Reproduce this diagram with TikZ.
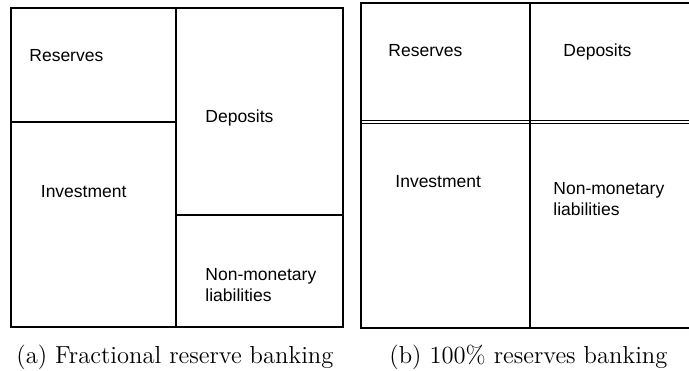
\documentclass[tikz,border=0pt]{standalone}
\usepackage{fontspec}
\newfontfamily\boxfont{Liberation Sans}
\tikzset{
  sheet/.style={line width=1pt},
  item/.style={font=\boxfont\fontsize{8.75}{10.5}\selectfont, anchor=base west, inner sep=0pt, align=left},
  caption/.style={font=\fontsize{12.3}{15}\selectfont, anchor=base west, inner sep=0pt}
}
\begin{document}
\begin{tikzpicture}[x=0.5pt, y=-0.5pt]
  \useasboundingbox (0,0) rectangle (689,370);
  % (a) fractional reserve banking
  \draw[sheet] (11,7.5) rectangle (343,327);
  \draw[sheet] (176,7.5) -- (176,327);
  \draw[sheet] (11,122) -- (176,122);
  \draw[sheet] (176,215) -- (343,215);
  \node[item] (resA) at (29,61.5) {Reserves};
  \node[item] (depA) at (205,122) {Deposits};
  \node[item] (invA) at (40.5,197) {Investment};
  \node[item] (nonA) at (205,301.7) {Non-monetary\\liabilities};
  % (b) 100% reserves banking
  \draw[sheet] (361,2.5) rectangle (720,327.5);
  \draw[sheet] (530,2.5) -- (530,327.5);
  \draw[line width=0.8pt] (361,120.5) -- (720,120.5);
  \draw[line width=0.8pt] (361,123.5) -- (720,123.5);
  \node[item] (resB) at (388,56.5) {Reserves};
  \node[item] (depB) at (563,56.5) {Deposits};
  \node[item] (invB) at (395,187) {Investment};
  \node[item] (nonB) at (553,215) {Non-monetary\\liabilities};
  % captions
  \node[caption] (capA) at (16,363.3) {(a) Fractional reserve banking};
  \node[caption] (capB) at (389,363.3) {(b) 100\% reserves banking};
\end{tikzpicture}
\end{document}
